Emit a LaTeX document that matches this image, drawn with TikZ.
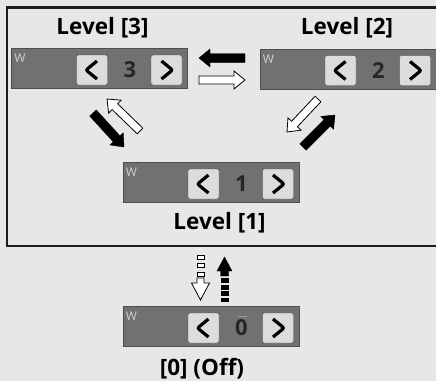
\documentclass[tikz,border=0pt]{standalone}
\usepackage{fontspec}
\setsansfont{Open Sans}
\usepackage{tikz}
\usetikzlibrary{calc}
\definecolor{paper}{HTML}{E6E7E8}
\definecolor{frame}{HTML}{1E1E1E}
\definecolor{panel}{HTML}{707172}
\definecolor{rim}{HTML}{4E4E4E}
\definecolor{keyfill}{HTML}{DCDCDC}
\definecolor{ink}{HTML}{262626}
\definecolor{tagc}{HTML}{D2D2D2}

\begin{document}
\begin{tikzpicture}[
    x=1pt,y=-1pt,
    font=\sffamily,
    title/.style={font=\sffamily\bfseries\fontsize{22.5}{26}\selectfont,anchor=base,inner sep=0},
    panel/.style={fill=panel,draw=rim,line width=0.8pt,minimum width=176pt,minimum height=40pt,inner sep=0},
    wtag/.style={font=\sffamily\fontsize{12}{12}\selectfont,text=tagc,anchor=north west,inner sep=0},
    btn/.style={draw=rim,fill=keyfill,rounded corners=2pt,minimum width=31pt,minimum height=30pt,inner sep=0},
    chev/.style={draw=black,line width=3.2pt},
    btnl/.style={btn,path picture={\draw[chev] ([shift={(5pt,9pt)}]path picture bounding box.center) -- ++(-11pt,-9pt) -- ++(11pt,-9pt);}},
    btnr/.style={btn,path picture={\draw[chev] ([shift={(-5pt,9pt)}]path picture bounding box.center) -- ++(11pt,-9pt) -- ++(-11pt,-9pt);}},
    num/.style={font=\sffamily\bfseries\fontsize{22}{26}\selectfont,text=ink,inner sep=0},
    barr/.style n args={3}{to path={
      -- ($(\tikztostart)!#1!90:(\tikztotarget)$)
      -- ($(\tikztotarget)!#3!(\tikztostart)!#1!90:(\tikztotarget)$)
      -- ($(\tikztotarget)!#3!(\tikztostart)!#2!90:(\tikztotarget)$)
      -- (\tikztotarget)
      -- ($(\tikztotarget)!#3!(\tikztostart)!#2!-90:(\tikztotarget)$)
      -- ($(\tikztotarget)!#3!(\tikztostart)!#1!-90:(\tikztotarget)$)
      -- ($(\tikztostart)!#1!-90:(\tikztotarget)$) -- cycle}},
    fullarr/.style={barr={4.5pt}{9pt}{11pt},fill=black,draw=black},
    openarr/.style={barr={4pt}{9pt}{11pt},fill=white,draw=black,line width=0.8pt},
    bar/.style={draw=black,line width=0.8pt}
  ]
  \fill[paper] (0,0) rectangle (436,381);
  \useasboundingbox (0,0) rectangle (436,381);
  \clip (0,0) rectangle (436,381);

  % the three levels, in their frame
  \draw[frame,line width=2.5pt] (7,7.5) rectangle (445,246);

  \node[panel] (l3) at (99.5,68.5) {};
  \node[panel] (l2) at (348,69) {};
  \node[panel] (l1) at (211,182.5) {};
  \node[panel] (l0) at (211,326.5) {};

  \node[title] (t3) at (102.5,34) {Level [3]};
  \node[title] (t2) at (347,34) {Level [2]};
  \node[title] (t1) at (219.5,229) {Level [1]};
  \node[title] (t0) at (202,375.5) {[0] (Off)};

  \node[wtag] (l3w) at ($(l3.north west)+(3,6)$) {W};
  \node[btnl] (l3p) at ($(l3)+(-7.5,1.5)$) {};
  \node[num] (l3n) at ($(l3)+(30.5,1.5)$) {3};
  \node[btnr] (l3x) at ($(l3)+(67,1.5)$) {};

  \node[wtag] (l2w) at ($(l2.north west)+(3,6)$) {W};
  \node[btnl] (l2p) at ($(l2)+(-7.5,1.5)$) {};
  \node[num] (l2n) at ($(l2)+(30.5,1.5)$) {2};
  \node[btnr] (l2x) at ($(l2)+(67,1.5)$) {};

  \node[wtag] (l1w) at ($(l1.north west)+(3,6)$) {W};
  \node[btnl] (l1p) at ($(l1)+(-7.5,1.5)$) {};
  \node[num] (l1n) at ($(l1)+(30.5,1.5)$) {1};
  \node[btnr] (l1x) at ($(l1)+(67,1.5)$) {};

  \node[wtag] (l0w) at ($(l0.north west)+(3,6)$) {W};
  \node[btnl] (l0p) at ($(l0)+(-7.5,1.5)$) {};
  \node[num] (l0n) at ($(l0)+(30.5,1.5)$) {0};
  \node[btnr] (l0x) at ($(l0)+(67,1.5)$) {};
  \draw[gray!80,line width=0.8pt] ($(l0n.north)+(-5,-3)$) -- ++(10,0);

  % moves between the levels
  \coordinate (k32a) at (245,58);  \coordinate (k32b) at (199,58);
  \coordinate (k23a) at (199,80);  \coordinate (k23b) at (245,80);
  \draw[fullarr] (k32a) to (k32b);
  \draw[openarr] (k23a) to (k23b);

  \coordinate (k31a) at (93,113);  \coordinate (k31b) at (124,147);
  \coordinate (k13a) at (140,131); \coordinate (k13b) at (107,99);
  \draw[fullarr] (k31a) to (k31b);
  \draw[openarr] (k13a) to (k13b);

  \coordinate (k21a) at (318,99);  \coordinate (k21b) at (287,132);
  \coordinate (k12a) at (303,147); \coordinate (k12b) at (335,115);
  \draw[openarr] (k21a) to (k21b);
  \draw[fullarr] (k12a) to (k12b);

  % off and back on
  \coordinate (k10a) at (200.5,278); \coordinate (k10b) at (200.5,300);
  \coordinate (k01a) at (224.5,276); \coordinate (k01b) at (224.5,257);
  \draw[bar,fill=white] (197,255) rectangle (204,259);
  \draw[bar,fill=white] (197,263.5) rectangle (204,267.5);
  \draw[bar,fill=white] (197,272) rectangle (204,276);
  \draw[openarr,barr={3.5pt}{9pt}{17pt}] (k10a) to (k10b);
  \draw[fullarr,barr={4pt}{7.5pt}{14pt}] (k01a) to (k01b);
  \fill (220.5,278) rectangle (228.5,283);
  \fill (220.5,284.5) rectangle (228.5,289.5);
  \fill (220.5,291) rectangle (228.5,296);
  \fill (220.5,297.5) rectangle (228.5,302);
\end{tikzpicture}
\end{document}
